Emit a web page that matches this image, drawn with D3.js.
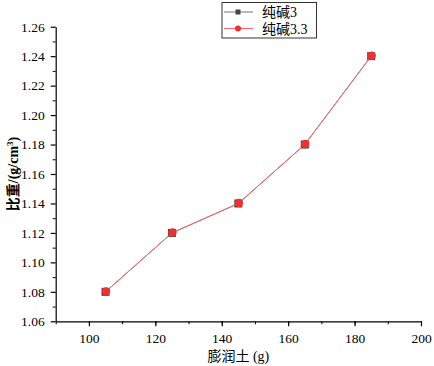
<!DOCTYPE html>
<html>
<head>
<meta charset="utf-8">
<script src="https://cdn.jsdelivr.net/npm/d3@7"></script>
<style>
  body { margin: 0; background: #fff; }
  svg { display: block; }
  text { font-family: "Liberation Serif", "Noto Sans CJK SC", serif; fill: #000; }
</style>
</head>
<body>
<svg></svg>
<script>
// data
const bentonite = [105, 125, 145, 165, 185];
const soda3 = [1.08, 1.12, 1.14, 1.18, 1.24];
const soda33 = [1.08, 1.12, 1.14, 1.18, 1.24];
const seriesNames = ["纯碱3", "纯碱3.3"];
const xTicks = [100, 120, 140, 160, 180, 200];
const yTicks = [1.06, 1.08, 1.10, 1.12, 1.14, 1.16, 1.18, 1.20, 1.22, 1.24, 1.26];

const width = 434, height = 366;
const margin = { top: 26.7, right: 13, bottom: 44.7, left: 55.7 };

const svg = d3.select("svg")
    .attr("width", width)
    .attr("height", height);

const x = d3.scaleLinear()
    .domain([90, 200])
    .range([margin.left, width - margin.right]);

const y = d3.scaleLinear()
    .domain([1.06, 1.26])
    .range([height - margin.bottom, margin.top]);

// minor ticks
svg.append("g")
    .attr("transform", `translate(0,${height - margin.bottom})`)
    .call(d3.axisBottom(x).tickValues(d3.range(90, 201, 10)).tickSize(3).tickFormat(""))
    .call(g => g.select(".domain").remove());
svg.append("g")
    .attr("transform", `translate(${margin.left},0)`)
    .call(d3.axisLeft(y).tickValues(d3.range(1.07, 1.26, 0.02)).tickSize(3).tickFormat(""))
    .call(g => g.select(".domain").remove());

// main axes
svg.append("g")
    .attr("transform", `translate(0,${height - margin.bottom})`)
    .call(d3.axisBottom(x).tickValues(xTicks).tickSize(5).tickSizeOuter(0).tickPadding(7))
    .call(g => g.selectAll("text").style("font-size", "13.5px"))
    .call(g => g.selectAll("line, path").attr("stroke-width", 1.2));

svg.append("g")
    .attr("transform", `translate(${margin.left},0)`)
    .call(d3.axisLeft(y).tickValues(yTicks).tickSize(5).tickSizeOuter(0).tickPadding(6)
        .tickFormat(d3.format(".2f")))
    .call(g => g.selectAll("text").style("font-size", "13.5px"))
    .call(g => g.selectAll("line, path").attr("stroke-width", 1.2));

// axis titles
svg.append("text")
    .attr("x", (margin.left + width - margin.right) / 2)
    .attr("y", 361)
    .attr("text-anchor", "middle")
    .style("font-size", "14px")
    .text("膨润土 (g)");

const yTitle = svg.append("text")
    .attr("transform", `translate(18,${(margin.top + height - margin.bottom) / 2}) rotate(-90)`)
    .attr("text-anchor", "middle")
    .style("font-size", "14px")
    .style("font-weight", "bold");
yTitle.append("tspan").text("比重/(g/cm");
yTitle.append("tspan").attr("dy", -5).style("font-size", "9px").text("3");
yTitle.append("tspan").attr("dy", 5).text(")");

const line = d3.line()
    .x((d, i) => x(bentonite[i]))
    .y(d => y(d));

// series 1: gray line, dark squares
svg.append("path")
    .datum(soda3)
    .attr("fill", "none")
    .attr("stroke", "#777")
    .attr("stroke-width", 1)
    .attr("d", line);

svg.selectAll(".sq")
    .data(soda3)
    .enter()
    .append("rect")
    .attr("class", "sq")
    .attr("x", (d, i) => x(bentonite[i]) - 4)
    .attr("y", d => y(d) - 4)
    .attr("width", 8)
    .attr("height", 8)
    .attr("fill", "#444");

// series 2: red line, red markers on top
svg.append("path")
    .datum(soda33)
    .attr("fill", "none")
    .attr("stroke", "#ff6464")
    .attr("stroke-width", 1)
    .attr("d", line);

svg.selectAll(".dot")
    .data(soda33)
    .enter()
    .append("circle")
    .attr("class", "dot")
    .attr("cx", (d, i) => x(bentonite[i]) + 0.5)
    .attr("cy", d => y(d) - 0.5)
    .attr("r", 4.2)
    .attr("fill", "#f03030");

// legend
const legend = svg.append("g");
legend.append("rect")
    .attr("x", 222)
    .attr("y", 2.5)
    .attr("width", 94.5)
    .attr("height", 35.5)
    .attr("fill", "#fff")
    .attr("stroke", "#333")
    .attr("stroke-width", 1);

const legendRows = [
    { name: seriesNames[0], color: "#777", mark: "square", fill: "#444" },
    { name: seriesNames[1], color: "#ff6464", mark: "circle", fill: "#f03030" }
];

legendRows.forEach((r, i) => {
    const cy = 12 + i * 16.5;
    legend.append("line")
        .attr("x1", 224).attr("x2", 253)
        .attr("y1", cy).attr("y2", cy)
        .attr("stroke", r.color)
        .attr("stroke-width", 1);
    if (r.mark === "square") {
        legend.append("rect")
            .attr("x", 235.5).attr("y", cy - 2.5)
            .attr("width", 5).attr("height", 5)
            .attr("fill", r.fill);
    } else {
        legend.append("circle")
            .attr("cx", 238).attr("cy", cy)
            .attr("r", 3)
            .attr("fill", r.fill);
    }
    legend.append("text")
        .attr("x", 262)
        .attr("y", cy + 5)
        .style("font-size", "14px")
        .text(r.name);
});
</script>
</body>
</html>
